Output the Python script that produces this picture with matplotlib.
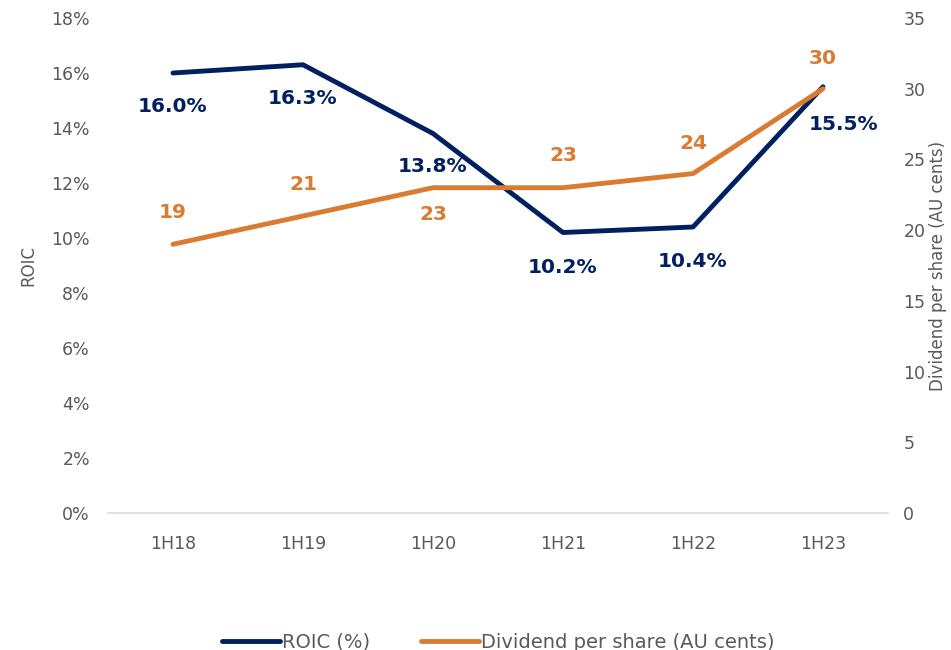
import matplotlib
matplotlib.use("Agg")
import matplotlib.pyplot as plt
from matplotlib.ticker import FuncFormatter, MultipleLocator

categories = ["1H18", "1H19", "1H20", "1H21", "1H22", "1H23"]
roic = [16.0, 16.3, 13.8, 10.2, 10.4, 15.5]
dividend = [19, 21, 23, 23, 24, 30]

NAVY = "#002060"
ORANGE = "#DA7B32"
GRAY = "#595959"

plt.rcParams["font.family"] = ["DejaVu Sans"]

fig = plt.figure(figsize=(9.51, 6.5), dpi=100)
ax = fig.add_axes([108/951, 1-513/650, 780/951, 495/650])
ax2 = ax.twinx()

x = list(range(len(categories)))
l1, = ax.plot(x, roic, color=NAVY, lw=3.5, solid_capstyle="round", solid_joinstyle="round", label="ROIC (%)", zorder=3)
l2, = ax2.plot(x, dividend, color=ORANGE, lw=3.5, solid_capstyle="round", solid_joinstyle="round", label="Dividend per share (AU cents)", zorder=3)

ax.set_xlim(-0.5, 5.5)
ax.set_ylim(0, 18)
ax2.set_ylim(0, 35)
ax.yaxis.set_major_locator(MultipleLocator(2))
ax2.yaxis.set_major_locator(MultipleLocator(5))
ax.yaxis.set_major_formatter(FuncFormatter(lambda v, p: f"{v:.0f}%"))
ax.set_xticks(x)
ax.set_xticklabels(categories)

for a in (ax, ax2):
    for s in a.spines.values():
        s.set_visible(False)
    a.tick_params(length=0, colors=GRAY, labelsize=12.5)
ax.spines["bottom"].set_visible(True)
ax.spines["bottom"].set_color("#D9D9D9")
ax.spines["bottom"].set_linewidth(1.2)
ax.tick_params(axis="x", pad=16)
ax.tick_params(axis="y", pad=13)
ax2.tick_params(axis="y", pad=11)

ax.set_ylabel("ROIC", color=GRAY, fontsize=12, labelpad=10)
ax2.set_ylabel("Dividend per share (AU cents)", color=GRAY, fontsize=12, labelpad=3)

# ROIC labels (offsets in points)
roic_off = [(0, -24), (0, -24), (0, -24), (0, -25), (0, -25), (15, -27)]
for xi, v, (dx, dy) in zip(x, roic, roic_off):
    ax.annotate(f"{v:.1f}%", (xi, v), xytext=(dx, dy), textcoords="offset points",
                ha="center", va="center", color=NAVY, fontsize=14.5, fontweight="bold", zorder=5)

div_off = [(0, 23), (0, 23), (0, -19), (0, 23), (0, 22), (0, 22)]
for xi, v, (dx, dy) in zip(x, dividend, div_off):
    ax2.annotate(f"{v:d}", (xi, v), xytext=(dx, dy), textcoords="offset points",
                 ha="center", va="center", color=ORANGE, fontsize=14.5, fontweight="bold", zorder=5)

leg = fig.legend(handles=[l1, l2], loc="center", bbox_to_anchor=(0.524, 0.012), ncol=2,
                 frameon=False, fontsize=14, handlelength=3.0, handletextpad=0.1, columnspacing=2.6)
for t in leg.get_texts():
    t.set_color(GRAY)

fig.savefig("out.png", dpi=100)
